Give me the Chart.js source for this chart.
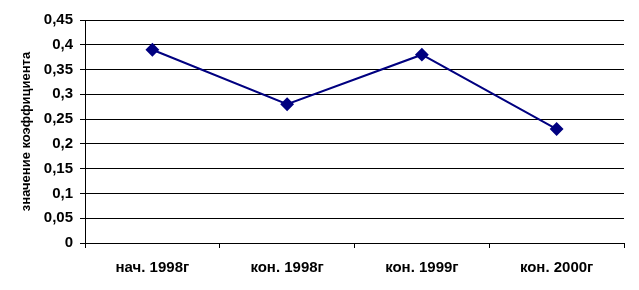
<!DOCTYPE html>
<html>
<head>
<meta charset="utf-8">
<script src="https://cdn.jsdelivr.net/npm/chart.js@4/dist/chart.umd.min.js"></script>
<style>
  html, body { margin: 0; padding: 0; background: #fff; }
  #wrap { width: 639px; height: 290px; }
</style>
</head>
<body>
<div id="wrap"><canvas id="chLine"></canvas></div>
<script>
// chart data
var categories = ['нач. 1998г', 'кон. 1998г', 'кон. 1999г', 'кон. 2000г'];
var values = [0.39, 0.28, 0.38, 0.23];
var yTitle = 'значение коэффициента';

var navy = '#000080';
var font = {family: '"Liberation Sans", Arial, sans-serif', size: 15, weight: 'bold'};

new Chart(document.getElementById('chLine'), {
  type: 'line',
  data: {
    labels: categories,
    datasets: [{
      data: values,
      borderColor: navy,
      backgroundColor: navy,
      borderWidth: 2,
      pointStyle: 'rectRot',
      pointRadius: 5.5,
      pointHoverRadius: 5.5,
      tension: 0
    }]
  },
  options: {
    responsive: true,
    maintainAspectRatio: false,
    animation: false,
    devicePixelRatio: 1,
    layout: {padding: {top: 20, right: 15, bottom: 0, left: 0}},
    plugins: {legend: {display: false}, tooltip: {enabled: false}},
    scales: {
      x: {
        offset: true,
        grid: {offset: true, drawOnChartArea: false, color: '#000', tickLength: 5},
        border: {color: '#000', width: 1},
        ticks: {color: '#000', font: font, padding: 11, maxRotation: 0},
        afterFit: function(s) { s.height = 47; }
      },
      y: {
        min: 0,
        max: 0.45,
        ticks: {
          stepSize: 0.05,
          color: '#000',
          font: font,
          padding: 7,
          callback: function(v) { return String(Number(v.toFixed(2))).replace('.', ','); }
        },
        grid: {color: '#000', tickLength: 5},
        border: {color: '#000', width: 1},
        title: {display: true, text: yTitle, color: '#000', padding: {top: 19, bottom: 0},
                font: {family: '"Liberation Sans", Arial, sans-serif', size: 13, weight: 'bold'}},
        afterFit: function(s) { s.width = 85; }
      }
    }
  }
});
</script>
</body>
</html>
